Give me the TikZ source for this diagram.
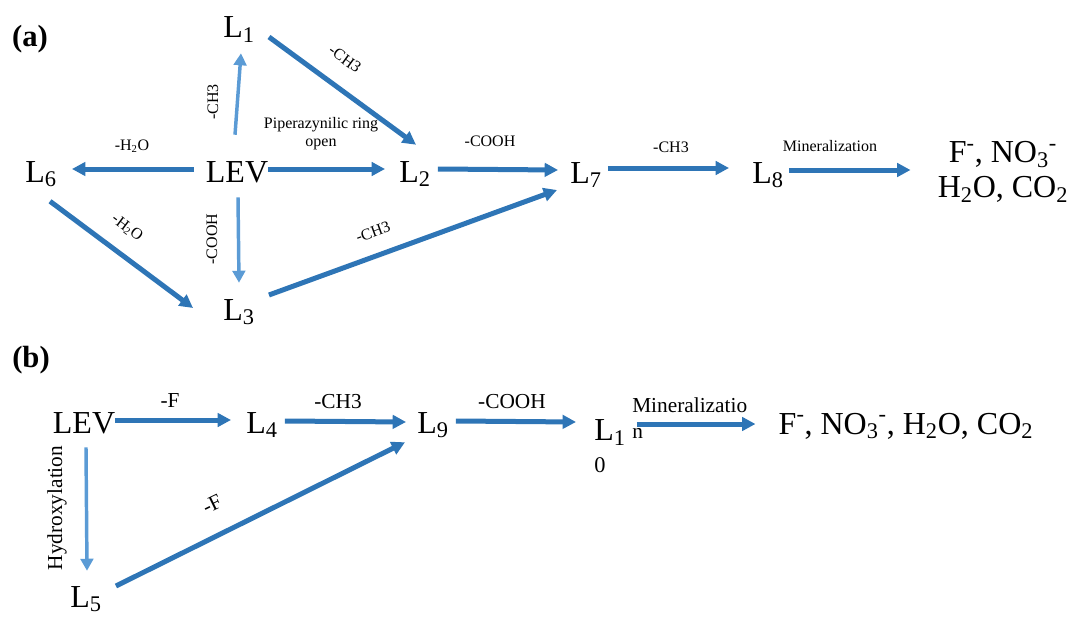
\documentclass[tikz,border=0pt]{standalone}
\usepackage{fontspec}
\setmainfont{Liberation Serif}
\usepackage{xcolor}
\definecolor{Blue}{HTML}{2E75B6}
\definecolor{Sky}{HTML}{5B9BD5}
\usetikzlibrary{arrows.meta,positioning}
\tikzset{
  species/.style={font=\fontsize{24}{26}\selectfont,inner sep=0pt,anchor=base,
    text height=19.5pt,text depth=0pt},
  product/.style={font=\fontsize{24}{26}\selectfont,inner sep=0pt,align=center},
  panel/.style={font=\fontsize{23}{26}\selectfont\bfseries,inner sep=0pt,anchor=base},
  cond/.style={font=\fontsize{12}{13.5}\selectfont,inner sep=0pt,align=center},
  condb/.style={font=\fontsize{16}{19.5}\selectfont,inner sep=0pt,align=left},
  arrow/.style={-{Triangle[length=10pt,width=10pt]},line width=3.75pt,color=Blue},
  lightarrow/.style={-{Triangle[length=9pt,width=9.5pt]},line width=2.6pt,color=Sky}
}
\begin{document}
\begin{tikzpicture}[x=0.75pt,y=-0.75pt]
  \useasboundingbox (0,0) rectangle (1082,617);

  % (a) pathway
  \node[panel] (pa) at (30,47) {(a)};
  \node[species] (leva) at (237,182) {LEV};
  \node[species] (l1) at (239,38) {L\textsubscript{1}};
  \node[species] (l6) at (41,182) {L\textsubscript{6}};
  \node[species] (l2) at (415,182) {L\textsubscript{2}};
  \node[species] (l3) at (239,320) {L\textsubscript{3}};
  \node[species] (l7) at (586,183) {L\textsubscript{7}};
  \node[species] (l8) at (768,183) {L\textsubscript{8}};
  \node[product] (proda) at (1003,172) {F\textsuperscript{-}, NO\textsubscript{3}\textsuperscript{-}\\H\textsubscript{2}O, CO\textsubscript{2}};

  \draw[arrow] ([shift={(-12,0)}]leva.west) -- ([shift={(15,0)}]l6.east);
  \draw[arrow] (leva.east) -- ([shift={(-14,0)}]l2.west);
  \draw[lightarrow] ([shift={(-2,-21)}]leva.north) -- ([shift={(2,15)}]l1.south);
  \draw[lightarrow] ([shift={(1,15)}]leva.south) -- ([shift={(0,-11)}]l3.north);
  \draw[arrow] ([shift={(14,12)}]l1.east) -- ([shift={(1,-11)}]l2.north);
  \draw[arrow] ([shift={(7,0)}]l2.east) -- ([shift={(-12,0)}]l7.west);
  \draw[arrow] ([shift={(9,19)}]l6.south) -- ([shift={(-30,1)}]l3.west);
  \draw[arrow] ([shift={(14,-12)}]l3.east) -- ([shift={(-13,20)}]l7.west);
  \draw[arrow] ([shift={(6,-2)}]l7.east) -- ([shift={(-23,-2)}]l8.west);
  \draw[arrow] ([shift={(5,0)}]l8.east) -- ([shift={(-27,-2)}]proda.west);

  \node[cond] (ca1) at (132,146) {-H\textsubscript{2}O};
  \node[cond,rotate=90] (ca2) at (213,102) {-CH3};
  \node[cond] (ca3) at (321,134) {Piperazynilic ring\\open};
  \node[cond,rotate=-36] (ca4) at (345,59) {-CH3};
  \node[cond] (ca5) at (490,141) {-COOH};
  \node[cond,rotate=-37] (ca6) at (127,228) {-H\textsubscript{2}O};
  \node[cond,rotate=90] (ca7) at (212,239) {-COOH};
  \node[cond,rotate=20] (ca8) at (373,232) {-CH3};
  \node[cond] (ca9) at (671,147) {-CH3};
  \node[cond] (ca10) at (830,146) {Mineralization};

  % (b) pathway
  \node[panel] (pb) at (31,367) {(b)};
  \node[species] (levb) at (84,433) {LEV};
  \node[species] (l4) at (262,433) {L\textsubscript{4}};
  \node[species] (l9) at (433,433) {L\textsubscript{9}};
  \node[species] (l5) at (86,607) {L\textsubscript{5}};
  \node[product,align=left,anchor=north west,font=\fontsize{24}{24}\selectfont] (l10) at (594,419)
    {L\textsubscript{1}\\{\fontsize{16.8}{16.8}\selectfont 0}};
  \node[product,anchor=base] (prodb) at (906,434) {F\textsuperscript{-}, NO\textsubscript{3}\textsuperscript{-}, H\textsubscript{2}O, CO\textsubscript{2}};

  \draw[arrow] (levb.east) -- ([shift={(-15,0)}]l4.west);
  \draw[arrow] ([shift={(7,1)}]l4.east) -- ([shift={(-11,2)}]l9.west);
  \draw[arrow] ([shift={(7,1)}]l9.east) -- ([shift={(-18,3)}]l10.north west);
  \draw[arrow] ([shift={(11,5)}]l10.north east) -- ([shift={(-23,-10)}]prodb.base west);
  \draw[lightarrow] ([shift={(2,14)}]levb.south) -- ([shift={(1,-10)}]l5.north);
  \draw[arrow] ([shift={(14,-8)}]l5.east) -- ([shift={(-28,9)}]l9.south);

  \node[condb] (cb1) at (170,401) {-F};
  \node[condb] (cb2) at (338,402) {-CH3};
  \node[condb] (cb3) at (512,402) {-COOH};
  \node[condb,anchor=north west] (cb4) at (632,397) {Mineralizatio\\n};
  \node[condb,rotate=90] (cb5) at (57,508) {Hydroxylation};
  \node[condb,rotate=26] (cb6) at (212,504) {-F};
\end{tikzpicture}
\end{document}
